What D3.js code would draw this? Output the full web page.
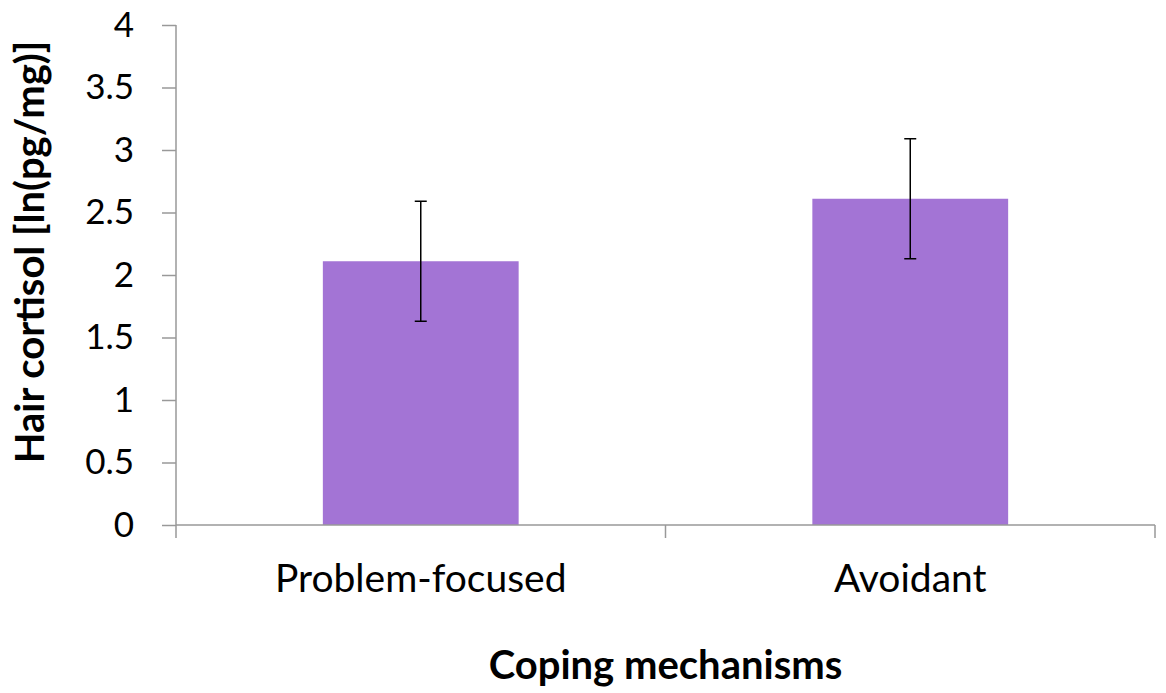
<meta charset="utf-8">
<style>
body { margin: 0; background: white; font-family: Lato, "Open Sans", sans-serif; }
svg text { font-family: Lato, "Open Sans", sans-serif; fill: #000; }
.tick text { font-size: 35px; }
.cat-label { font-size: 39px; }
.axis-title { font-size: 40px; font-weight: bold; }
</style>
<body>
<script src="https://cdnjs.cloudflare.com/ajax/libs/d3/7.8.5/d3.min.js"></script>
<script>

var categories = ["Problem-focused", "Avoidant"];
var means = [2.11, 2.61];
var errors = [0.48, 0.48];
var yTicks = [0, 0.5, 1, 1.5, 2, 2.5, 3, 3.5, 4];

var width = 1166, height = 693;
var margin = {top: 25, right: 11, bottom: 168, left: 176};

var data = categories.map(function(c, i) {
  return {cat: c, mean: means[i], err: errors[i]};
});

var svg = d3.select("body").append("svg")
    .attr("width", width)
    .attr("height", height);

var x = d3.scaleBand()
    .domain(categories)
    .range([margin.left, width - margin.right])
    .paddingInner(0.6)
    .paddingOuter(0.3);

var y = d3.scaleLinear()
    .domain([0, 4])
    .range([height - margin.bottom, margin.top]);

// bars
svg.selectAll("rect.bar")
    .data(data)
  .enter().append("rect")
    .attr("class", "bar")
    .attr("x", function(d) { return x(d.cat); })
    .attr("y", function(d) { return y(d.mean); })
    .attr("width", x.bandwidth())
    .attr("height", function(d) { return y(0) - y(d.mean); })
    .attr("fill", "#a374d5");

// error bars
var eb = svg.selectAll("g.err")
    .data(data)
  .enter().append("g")
    .attr("class", "err")
    .attr("stroke", "#000")
    .attr("stroke-width", 1.5);

function cx(d) { return x(d.cat) + x.bandwidth() / 2; }

eb.append("line")
    .attr("x1", cx).attr("x2", cx)
    .attr("y1", function(d) { return y(d.mean + d.err); })
    .attr("y2", function(d) { return y(d.mean - d.err); });
eb.append("line")
    .attr("x1", function(d) { return cx(d) - 6; })
    .attr("x2", function(d) { return cx(d) + 6; })
    .attr("y1", function(d) { return y(d.mean + d.err); })
    .attr("y2", function(d) { return y(d.mean + d.err); });
eb.append("line")
    .attr("x1", function(d) { return cx(d) - 6; })
    .attr("x2", function(d) { return cx(d) + 6; })
    .attr("y1", function(d) { return y(d.mean - d.err); })
    .attr("y2", function(d) { return y(d.mean - d.err); });

// y axis
var yAxis = svg.append("g")
    .attr("transform", "translate(" + margin.left + ",0)")
    .call(d3.axisLeft(y).tickValues(yTicks).tickSize(14).tickPadding(28)
      .tickFormat(function(d) { return String(d); }));
yAxis.attr("font-family", null).attr("font-size", null);
yAxis.selectAll("line, path").attr("stroke", "#999").attr("stroke-width", 1.5);
yAxis.select(".domain").attr("d", "M0," + y(4) + "V" + y(0));

// x axis with boundary ticks
var x0 = margin.left, x1 = width - margin.right, yb = y(0);
var xa = svg.append("g");
xa.append("line")
    .attr("x1", x0).attr("x2", x1).attr("y1", yb).attr("y2", yb)
    .attr("stroke", "#999").attr("stroke-width", 1.5);
var bounds = [x0, (x0 + x1) / 2, x1];
xa.selectAll("line.bt")
    .data(bounds)
  .enter().append("line")
    .attr("class", "bt")
    .attr("x1", function(d) { return d; })
    .attr("x2", function(d) { return d; })
    .attr("y1", yb).attr("y2", yb + 13)
    .attr("stroke", "#999").attr("stroke-width", 1.5);
xa.selectAll("text")
    .data(categories)
  .enter().append("text")
    .attr("class", "cat-label")
    .attr("x", function(d) { return x(d) + x.bandwidth() / 2; })
    .attr("y", 592)
    .attr("text-anchor", "middle")
    .text(function(d) { return d; });

// titles
svg.append("text")
    .attr("class", "axis-title")
    .attr("text-anchor", "middle")
    .attr("transform", "translate(44,252) rotate(-90)")
    .text("Hair cortisol [ln(pg/mg)]");

svg.append("text")
    .attr("class", "axis-title")
    .attr("text-anchor", "middle")
    .attr("x", (x0 + x1) / 2)
    .attr("y", 679)
    .text("Coping mechanisms");

</script>
